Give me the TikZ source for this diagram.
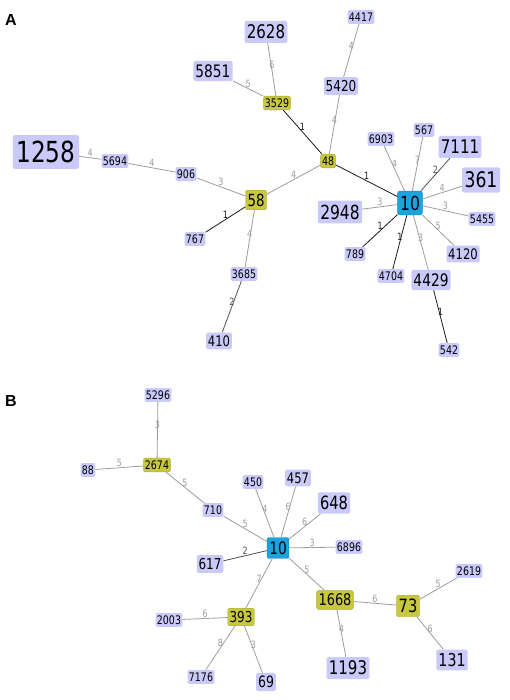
\documentclass[tikz,border=0pt]{standalone}
\usepackage{fontspec}
\setmainfont{DejaVu Sans}[FakeStretch=0.8]
\newfontfamily\panelfont{Liberation Sans}
\usetikzlibrary{positioning}
\definecolor{stlav}{HTML}{CACAFA}
\definecolor{styellow}{HTML}{C8C83E}
\definecolor{stblue}{HTML}{1BA3E0}
\definecolor{ednear}{HTML}{1A1A1A}
\definecolor{edmid}{HTML}{505050}
\definecolor{edfar}{HTML}{9C9C9C}

\tikzset{
  st/.style={rectangle, rounded corners=2pt, fill=stlav, inner xsep={0.12*#1pt}, inner ysep=0pt,
    minimum height={1.17*#1pt}, font=\fontsize{#1pt}{#1pt}\selectfont},
  hub/.style={st=#1, fill=styellow, draw=styellow!85!black, line width=0.4pt},
  root/.style={st=#1, fill=stblue, draw=stblue!85!black, line width=0.4pt, minimum width={1.27*#1pt}, minimum height={1.22*#1pt}},
  e1/.style={color=ednear, line width=0.8pt},
  e2/.style={color=edmid, line width=0.8pt},
  ef/.style={color=edfar, line width=0.8pt},
  lbl/.style={midway, above, inner sep=0.6pt, font=\fontsize{10pt}{10pt}\selectfont},
  panel/.style={font=\panelfont\bfseries\fontsize{16pt}{16pt}\selectfont}
}

\begin{document}
\begin{tikzpicture}[x=1pt, y=-1pt]
  \useasboundingbox (0,0) rectangle (510,700);

  % Panel A
  \node[panel] (pa) at (11,20) {A};

  % central node and hubs
  \node[root=19.4] (a10) at (410,203) {10};
  \node[hub=11.8] (a48) at (328,161) {48};
  \node[hub=16.7] (a58) at (256,200) {58};
  \node[hub=11.8] (a3529) at (277,103) {3529};

  % leaves
  \node[st=29] (a1258) at (46,152) {1258};
  \node[st=11.8] (a5694) at (115,161) {5694};
  \node[st=11.8] (a906) at (186,174) {906};
  \node[st=11.8] (a767) at (195,239) {767};
  \node[st=11.8] (a3685) at (244,274) {3685};
  \node[st=14.5] (a410) at (219,341) {410};
  \node[st=17.2] (a5851) at (213,71) {5851};
  \node[st=18.8] (a2628) at (266,32) {2628};
  \node[st=15] (a5420) at (341,86) {5420};
  \node[st=11.8] (a4417) at (361,17) {4417};
  \node[st=11.8] (a6903) at (381,139) {6903};
  \node[st=11.8] (a567) at (424,130) {567};
  \node[st=18.8] (a7111) at (460,147) {7111};
  \node[st=21.5] (a361) at (481,180) {361};
  \node[st=11.8] (a5455) at (482,219) {5455};
  \node[st=14.5] (a4120) at (463,254) {4120};
  \node[st=17.2] (a4429) at (431,280) {4429};
  \node[st=11.8] (a542) at (449,350) {542};
  \node[st=11.8] (a4704) at (391,276) {4704};
  \node[st=11.8] (a789) at (355,254) {789};
  \node[st=19.4] (a2948) at (340,212) {2948};

  % edges A
  \draw[ef] (a1258) -- node[lbl] {4} (a5694);
  \draw[ef] (a5694) -- node[lbl] {4} (a906);
  \draw[ef] (a906) -- node[lbl] {3} (a58);
  \draw[e1] (a58) -- node[lbl] {1} (a767);
  \draw[ef] (a58) -- node[lbl] {4} (a3685);
  \draw[e2] (a3685) -- node[lbl] {2} (a410);
  \draw[ef] (a58) -- node[lbl] {4} (a48);
  \draw[e1] (a48) -- node[lbl] {1} (a3529);
  \draw[ef] (a3529) -- node[lbl] {5} (a5851);
  \draw[ef] (a3529) -- node[lbl] {6} (a2628);
  \draw[ef] (a48) -- node[lbl] {4} (a5420);
  \draw[ef] (a5420) -- node[lbl] {4} (a4417);
  \draw[e1] (a48) -- node[lbl] {1} (a10);
  \draw[ef] (a10) -- node[lbl] {4} (a6903);
  \draw[ef] (a10) -- node[lbl] {7} (a567);
  \draw[e2] (a10) -- node[lbl] {2} (a7111);
  \draw[ef] (a10) -- node[lbl] {4} (a361);
  \draw[ef] (a10) -- node[lbl] {3} (a5455);
  \draw[ef] (a10) -- node[lbl] {5} (a4120);
  \draw[ef] (a10) -- node[lbl] {3} (a4429);
  \draw[e1] (a4429) -- node[lbl] {1} (a542);
  \draw[e1] (a10) -- node[lbl] {1} (a4704);
  \draw[e1] (a10) -- node[lbl] {1} (a789);
  \draw[ef] (a10) -- node[lbl] {3} (a2948);

  % Panel B
  \node[panel] (pb) at (11,401) {B};

  % central node and hubs
  \node[root=17.2] (b10) at (278,548) {10};
  \node[hub=11.8] (b2674) at (157,465) {2674};
  \node[hub=15] (b393) at (241,617) {393};
  \node[hub=16.1] (b1668) at (335,600) {1668};
  \node[hub=18.3] (b73) at (408,606) {73};

  % leaves
  \node[st=11.8] (b5296) at (158,395) {5296};
  \node[st=11.8] (b88) at (88,470) {88};
  \node[st=11.8] (b710) at (213,510) {710};
  \node[st=11.8] (b450) at (253,482) {450};
  \node[st=14.5] (b457) at (298,478) {457};
  \node[st=18.3] (b648) at (334,503) {648};
  \node[st=11.8] (b6896) at (349,547) {6896};
  \node[st=15] (b617) at (210,564) {617};
  \node[st=11.8] (b2003) at (169,620) {2003};
  \node[st=11.8] (b7176) at (201,677) {7176};
  \node[st=15.6] (b69) at (266,682) {69};
  \node[st=18.8] (b1193) at (348,668) {1193};
  \node[st=11.8] (b2619) at (469,571) {2619};
  \node[st=17.7] (b131) at (452,660) {131};

  % edges B
  \draw[ef] (b5296) -- node[lbl] {3} (b2674);
  \draw[ef] (b88) -- node[lbl] {5} (b2674);
  \draw[ef] (b2674) -- node[lbl] {5} (b710);
  \draw[ef] (b710) -- node[lbl] {5} (b10);
  \draw[ef] (b450) -- node[lbl] {4} (b10);
  \draw[ef] (b457) -- node[lbl] {6} (b10);
  \draw[ef] (b648) -- node[lbl] {6} (b10);
  \draw[ef] (b10) -- node[lbl] {3} (b6896);
  \draw[e2] (b10) -- node[lbl] {2} (b617);
  \draw[ef] (b10) -- node[lbl] {7} (b393);
  \draw[ef] (b10) -- node[lbl] {5} (b1668);
  \draw[ef] (b393) -- node[lbl] {6} (b2003);
  \draw[ef] (b393) -- node[lbl] {8} (b7176);
  \draw[ef] (b393) -- node[lbl] {3} (b69);
  \draw[ef] (b1668) -- node[lbl] {4} (b1193);
  \draw[ef] (b1668) -- node[lbl] {6} (b73);
  \draw[ef] (b73) -- node[lbl] {5} (b2619);
  \draw[ef] (b73) -- node[lbl] {6} (b131);
\end{tikzpicture}
\end{document}
